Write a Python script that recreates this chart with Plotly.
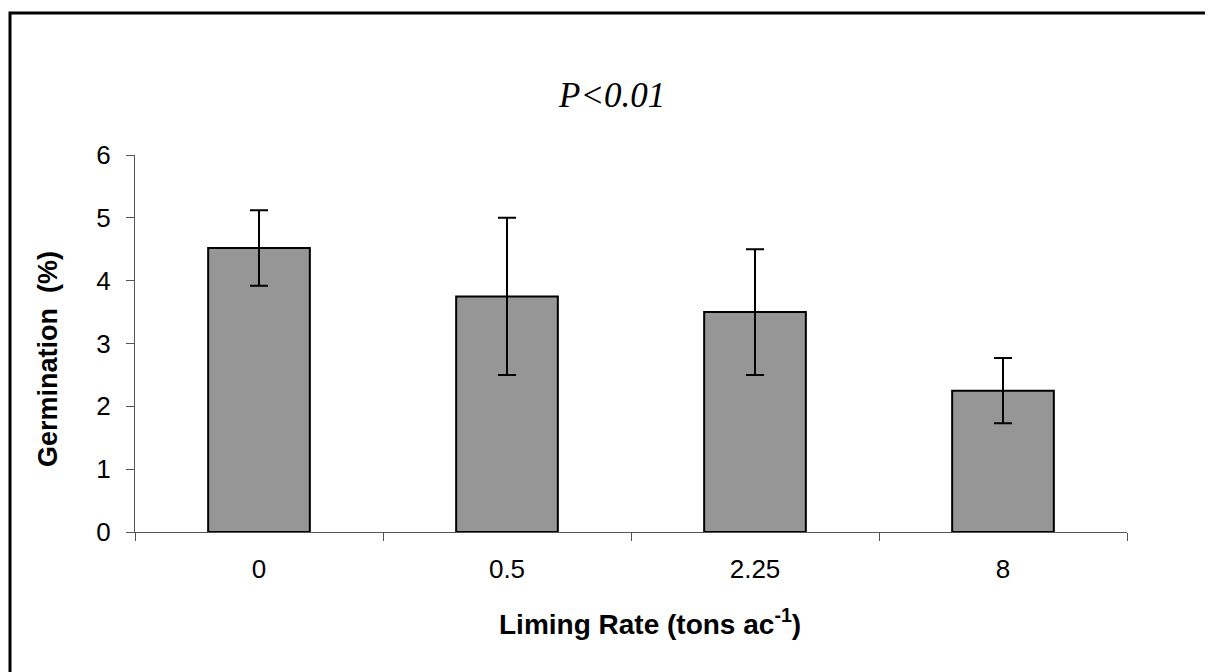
import plotly.graph_objects as go

categories = ["0", "0.5", "2.25", "8"]
germination = [4.52, 3.75, 3.5, 2.25]
error_sd = [0.6, 1.25, 1.0, 0.52]
y_ticks = [0, 1, 2, 3, 4, 5, 6]

OFF = 8  # page body margin
W, H = 1213 - OFF, 672 - OFF
L, R, T, B = 135 - OFF, 1127 - OFF, 155 - OFF, 532 - OFF

def px(x):
    return (x - OFF - L) / (R - L)

def py(y):
    return (B - (y - OFF)) / (B - T)

fig = go.Figure(go.Bar(
    x=categories, y=germination,
    marker=dict(color="#969696", line=dict(color="black", width=2)),
    error_y=dict(type="data", array=error_sd, visible=True, color="black",
                 thickness=2, width=9),
    width=0.41,
))

fig.update_layout(
    width=W, height=H,
    margin=dict(l=L, r=W - R, t=T, b=H - B, pad=0),
    paper_bgcolor="white", plot_bgcolor="white",
    showlegend=False,
    font=dict(family="Liberation Sans, Arial, sans-serif", color="black", size=26),
    xaxis=dict(type="category", showline=True, linecolor="#555", linewidth=1,
               ticks="outside", tickson="boundaries", ticklen=8, tickcolor="#555",
               tickfont=dict(size=26), ticklabelstandoff=14,
               showgrid=False, zeroline=False),
    yaxis=dict(range=[0, 6], tickvals=y_ticks, showline=True, linecolor="#555",
               linewidth=1, ticks="outside", ticklen=8, tickcolor="#555",
               tickfont=dict(size=26), ticklabelstandoff=10,
               showgrid=False, zeroline=False),
    shapes=[dict(type="rect", xref="paper", yref="paper",
                 x0=px(10), x1=px(1240), y0=py(700), y1=py(13),
                 line=dict(color="black", width=3), fillcolor="rgba(0,0,0,0)")],
    annotations=[
        dict(text="<i>P<0.01</i>", xref="paper", yref="paper", x=px(611), y=py(96),
             showarrow=False, xanchor="center", yanchor="middle",
             font=dict(family="Liberation Serif, Times New Roman, serif", size=35)),
        dict(text="<b>Germination  (%)</b>", xref="paper", yref="paper", x=px(48), y=py(359),
             showarrow=False, xanchor="center", yanchor="middle", textangle=-90,
             font=dict(size=27)),
        dict(text="<b>Liming Rate (tons ac<sup>-1</sup>)</b>", xref="paper", yref="paper",
             x=px(650), y=py(622), showarrow=False, xanchor="center", yanchor="middle",
             font=dict(size=28)),
    ],
)

fig.write_html("out.html")
